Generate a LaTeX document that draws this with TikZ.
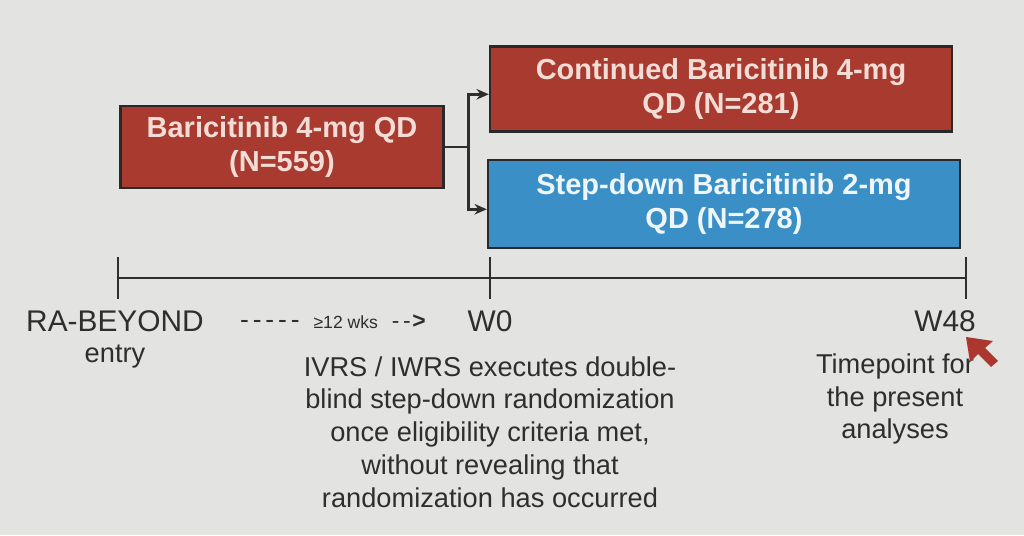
\documentclass[tikz,border=0pt]{standalone}
\usepackage{fontspec}
\setmainfont{Liberation Sans}
\usetikzlibrary{arrows.meta}
\definecolor{bgray}{HTML}{E3E3E1}
\definecolor{armred}{HTML}{A83A30}
\definecolor{armblue}{HTML}{3A8FC6}
\definecolor{inkgray}{HTML}{2E2E2E}
\definecolor{boxtxt}{HTML}{F2DDD6}
\tikzset{
  armbox/.style={draw=inkgray!90!black, line width=1.4pt, align=center, inner sep=2pt,
    font=\fontsize{16.5}{19.5}\selectfont\bfseries, text=boxtxt},
  tick/.style={inkgray, line width=1.2pt},
  lbl/.style={text=inkgray, font=\fontsize{17}{20}\selectfont},
  note/.style={text=inkgray, align=center, font=\fontsize{15.5}{18.7}\selectfont}
}
\begin{document}
\begin{tikzpicture}[x=0.02cm, y=-0.02cm, >={Stealth[length=7pt,width=6pt]}]
        % backdrop (photo of a slide)
        \fill[bgray] (0,0) rectangle (1024,535);
        \useasboundingbox (0,0) rectangle (1024,535);

        % treatment arms
        \node[armbox, fill=armred, minimum width=6.46cm, minimum height=1.64cm] (base) at (282,147)
            {Baricitinib 4-mg QD\\(N=559)};
        \node[armbox, fill=armred, minimum width=9.24cm, minimum height=1.70cm] (cont) at (721,89)
            {Continued Baricitinib 4-mg\\QD (N=281)};
        \node[armbox, fill=armblue, text=white!92!armblue, minimum width=9.44cm, minimum height=1.76cm] (stepdown) at (724,204)
            {Step-down Baricitinib 2-mg\\QD (N=278)};

        % split to both arms
        \draw[inkgray, line width=1.4pt] (base.east) -- ++(24,0) coordinate (split);
        \draw[->, inkgray, line width=1.4pt] (split) |- ([yshift=-3pt]cont.west);
        \draw[->, inkgray, line width=1.4pt] (split) |- ([yshift=-3pt]stepdown.west);

        % timeline
        \coordinate (t0) at (118,278);
        \coordinate (t1) at (490,278);
        \coordinate (t2) at (966,278);
        \draw[tick] (t0) -- (t2);
        \foreach \t in {t0,t1,t2}
            \draw[tick] ([yshift=12]\t) -- ([yshift=-12]\t);

        % labels under the timeline
        \node[lbl] (entry) at (115,321) {RA-BEYOND};
        \node[lbl, font=\fontsize{15.5}{18}\selectfont] (entry2) at (115,357) {entry};
        \node[lbl] (w0) at (490,321) {W0};
        \node[lbl] (w48) at (945,321) {W48};
        \node[text=inkgray] (gap) at (333,322)
            {{\fontsize{15}{16}\selectfont -\hspace{2.2pt}-\hspace{2.2pt}-\hspace{2.2pt}-\hspace{2.2pt}-}\hspace{0.8em}{\fontsize{10}{12}\selectfont ≥12 wks}\hspace{0.8em}{\fontsize{13}{14}\selectfont -\hspace{2pt}-\hspace{1pt}\textbf{>}}};

        \node[note] (ivrs) at (490,432)
            {IVRS / IWRS executes double-\\blind step-down randomization\\once eligibility criteria met,\\without revealing that\\randomization has occurred};
        \node[note] (tp) at (895,399) {Timepoint for\\the present\\analyses};

        % red pointer
        \fill[armred!95!red] (966,337) -- (993,341) -- (985,348) -- (998,361) -- (991,367) -- (978,354) -- (970,362) -- cycle;
\end{tikzpicture}
\end{document}
